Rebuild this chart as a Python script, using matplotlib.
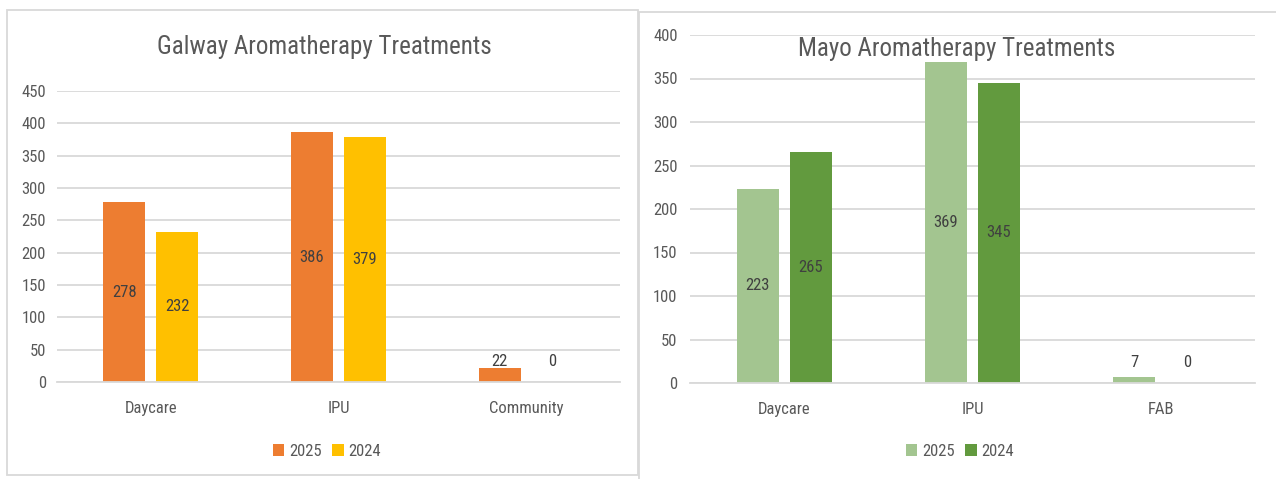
import matplotlib.pyplot as plt
import numpy as np
from matplotlib.patches import Rectangle

plt.rcParams['font.family'] = ['Liberation Sans Narrow', 'Roboto Condensed', 'Open Sans Condensed',
                               'Lato', 'DejaVu Sans']

galway_cats = ['Daycare', 'IPU', 'Community']
galway_2025 = [278, 386, 22]
galway_2024 = [232, 379, 0]

mayo_cats = ['Daycare', 'IPU', 'FAB']
mayo_2025 = [223, 369, 7]
mayo_2024 = [265, 345, 0]

years = ['2025', '2024']
grey = '#595959'


def panel(fig, box, rect, title, title_xy, cats, s1, s2, colors, ymax, legend_x, ypad):
    # outer frame of the chart
    fig.patches.append(Rectangle((box[0], box[1]), box[2], box[3], transform=fig.transFigure,
                                 fill=False, edgecolor='#d9d9d9', linewidth=1.3))
    ax = fig.add_axes(rect)
    x = np.arange(len(cats))
    w = 0.224
    off = 0.141
    b1 = ax.bar(x - off, s1, w, color=colors[0], label=years[0], zorder=2)
    b2 = ax.bar(x + off, s2, w, color=colors[1], label=years[1], zorder=2)
    for bars, vals in ((b1, s1), (b2, s2)):
        for b, v in zip(bars, vals):
            cx = b.get_x() + b.get_width() / 2
            if v > 60:
                ax.text(cx, v / 2, str(v), ha='center', va='center', fontsize=12, color='#404040')
            else:
                ax.annotate(str(v), (cx, 0), xytext=(0, 15), textcoords='offset points',
                            ha='center', va='center', fontsize=12, color='#404040')
    ax.set_xlim(-0.5, len(cats) - 0.5)
    ax.set_ylim(0, ymax)
    ax.set_yticks(np.arange(0, ymax + 1, 50))
    ax.set_xticks(x)
    ax.set_xticklabels(cats)
    ax.grid(axis='y', color='#d9d9d9', linewidth=1.3, zorder=0)
    for s in ['top', 'right', 'left']:
        ax.spines[s].set_visible(False)
    ax.spines['bottom'].set_color('#d9d9d9')
    ax.spines['bottom'].set_linewidth(1.3)
    ax.tick_params(length=0, labelsize=12, colors=grey)
    ax.tick_params(axis='x', pad=14)
    ax.tick_params(axis='y', pad=ypad)
    fig.text(title_xy[0], title_xy[1], title, ha='center', va='center',
             fontsize=18, color=grey)
    fig.legend(handles=[b1, b2], loc='center', bbox_to_anchor=(legend_x, 1 - 451 / 479),
               ncol=2, frameon=False, fontsize=12, labelcolor=grey,
               handlelength=0.7, handleheight=0.7, handletextpad=0.3, columnspacing=0.6)
    return ax


fig = plt.figure(figsize=(12.76, 4.79), dpi=100)
W, H = 1276, 479

panel(fig, (7 / W, 4 / H, 631 / W, 465 / H),
      (57 / W, 1 - 382 / H, 563 / W, 291 / H),
      'Galway Aromatherapy Treatments', (324 / W, 1 - 47 / H),
      galway_cats, galway_2025, galway_2024, ['#ED7D31', '#FFC000'], 450, 327 / W, 8)

panel(fig, (639 / W, -5 / H, 640 / W, 472 / H),
      (690 / W, 1 - 383 / H, 565 / W, 348 / H),
      'Mayo Aromatherapy Treatments', (957 / W, 1 - 49 / H),
      mayo_cats, mayo_2025, mayo_2024, ['#A3C590', '#629A3E'], 400, 960 / W, 9)

fig.savefig('out.png', dpi=100, facecolor='white')
